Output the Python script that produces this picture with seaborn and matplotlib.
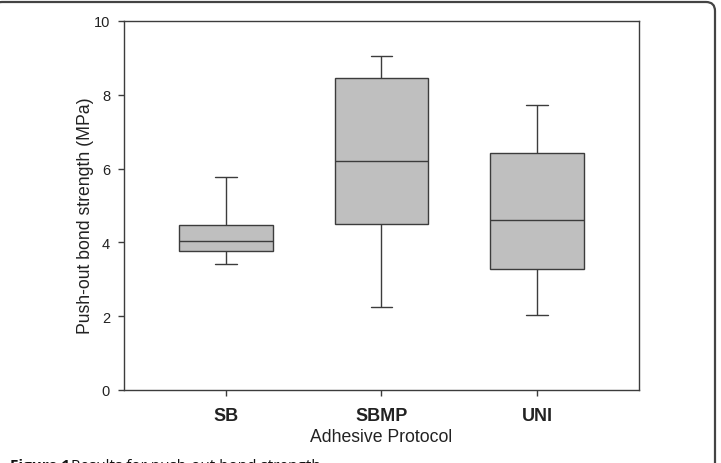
import matplotlib
matplotlib.use("Agg")
import matplotlib.pyplot as plt
import pandas as pd
import seaborn as sns
from matplotlib.patches import FancyBboxPatch
from matplotlib.transforms import IdentityTransform

# five-number summaries: min, Q1, median, Q3, max (MPa)
protocols = ["SB", "SBMP", "UNI"]
sb_stats = [3.42, 3.77, 4.05, 4.47, 5.78]
sbmp_stats = [2.25, 4.50, 6.21, 8.46, 9.04]
uni_stats = [2.04, 3.29, 4.61, 6.42, 7.72]
y_ticks = [0, 2, 4, 6, 8, 10]

rows = []
for name, vals in zip(protocols, [sb_stats, sbmp_stats, uni_stats]):
    for v in vals:
        rows.append({"protocol": name, "strength": v})
df = pd.DataFrame(rows)

sns.set_style("ticks")
plt.rcParams["font.family"] = ["Liberation Sans", "DejaVu Sans"]

LINE = "#3c3c3c"
FILL = "#bfbfbf"

fig = plt.figure(figsize=(7.21, 4.64), dpi=100)
ax = fig.add_axes([124 / 721, 73 / 464, 515 / 721, 369 / 464])

sns.boxplot(data=df, x="protocol", y="strength", order=protocols,
            color=FILL, linecolor=LINE, linewidth=1.0, width=0.6,
            whis=(0, 100), showfliers=False, saturation=1, ax=ax)

# narrow the whisker caps
for cont in ax.containers:
    caps = getattr(cont, "caps", None)
    if caps is None:
        continue
    for cap in caps:
        xd = cap.get_xdata()
        mid = (xd[0] + xd[1]) / 2
        cap.set_xdata([mid - 0.07, mid + 0.07])

for patch in ax.patches:
    patch.set_facecolor(FILL)
    patch.set_edgecolor(LINE)

ax.set_xlim(-0.656, 2.656)
ax.set_ylim(0, 10)
ax.set_yticks(y_ticks)
ax.set_yticklabels([str(t) for t in y_ticks], fontsize=10.5)
ax.set_xticks(range(len(protocols)))
ax.set_xticklabels(protocols, fontsize=13, fontweight="bold")
for lab in ax.get_xticklabels() + ax.get_yticklabels():
    lab.set_color("#222222")

for side in ["top", "right", "left", "bottom"]:
    ax.spines[side].set_visible(True)
    ax.spines[side].set_color(LINE)
    ax.spines[side].set_linewidth(1.0)
ax.tick_params(axis="both", direction="out", length=4, width=1.0, color=LINE)
ax.tick_params(axis="x", pad=8)
ax.tick_params(axis="y", pad=6)

ax.set_xlabel("Adhesive Protocol", fontsize=12.7, color="#222222", labelpad=3)
ax.set_ylabel("Push-out bond strength (MPa)", fontsize=12.7, color="#222222")
ax.yaxis.set_label_coords(-0.058, 0.474)

# caption (partly cut off at bottom as in the source page)
fig.text(10 / 721, -6 / 464, "Figure 1", fontsize=11, fontweight="bold",
         family=["Open Sans", "DejaVu Sans"], va="baseline", color="#111111")
fig.text(71 / 721, -6 / 464, "Results for push-out bond strength.", fontsize=11,
         family=["Open Sans", "DejaVu Sans"], va="baseline", color="#111111")

# rounded page frame
frame = FancyBboxPatch((-7, -40), 722, 501, boxstyle="round,pad=0,rounding_size=9",
                       transform=IdentityTransform(), fill=False,
                       edgecolor="#444444", linewidth=1.6)
fig.add_artist(frame)

fig.savefig("out.png", dpi=100)
